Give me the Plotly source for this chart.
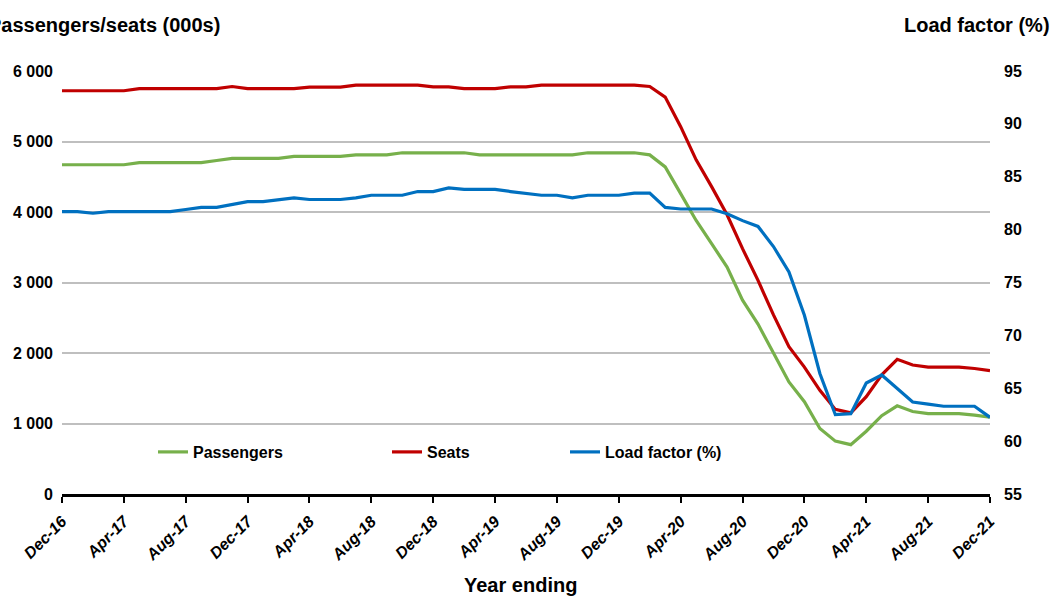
import plotly.graph_objects as go

# ---------------- data ----------------
month_names = ["Jan", "Feb", "Mar", "Apr", "May", "Jun", "Jul", "Aug", "Sep", "Oct", "Nov", "Dec"]
months = ["Dec-16"] + [f"{m}-{y}" for y in range(17, 22) for m in month_names]
x_tick_labels = months[::4]

passengers = [4670, 4670, 4670, 4670, 4670, 4700, 4700, 4700, 4700, 4700,
              4730, 4760, 4760, 4760, 4760, 4790, 4790, 4790, 4790, 4810,
              4810, 4810, 4840, 4840, 4840, 4840, 4840, 4810, 4810, 4810,
              4810, 4810, 4810, 4810, 4840, 4840, 4840, 4840, 4810, 4640,
              4260, 3880, 3550, 3220, 2750, 2410, 2000, 1590, 1310, 930,
              750, 700, 890, 1110, 1250, 1170, 1140, 1140, 1140, 1120,
              1090]

seats = [5720, 5720, 5720, 5720, 5720, 5750, 5750, 5750, 5750, 5750,
         5750, 5780, 5750, 5750, 5750, 5750, 5770, 5770, 5770, 5800,
         5800, 5800, 5800, 5800, 5775, 5775, 5750, 5750, 5750, 5775,
         5775, 5800, 5800, 5800, 5800, 5800, 5800, 5800, 5780, 5630,
         5210, 4740, 4360, 3960, 3480, 3030, 2540, 2090, 1800, 1470,
         1200, 1150, 1380, 1690, 1910, 1830, 1800, 1800, 1800, 1780,
         1750]

load_factor = [81.7, 81.7, 81.55, 81.7, 81.7, 81.7, 81.7, 81.7, 81.9, 82.1,
               82.1, 82.35, 82.65, 82.65, 82.85, 83.0, 82.85, 82.85, 82.85, 83.0,
               83.25, 83.25, 83.25, 83.6, 83.6, 83.95, 83.8, 83.8, 83.8, 83.6,
               83.4, 83.25, 83.25, 83.0, 83.25, 83.25, 83.25, 83.45, 83.45, 82.1,
               81.95, 81.95, 81.95, 81.5, 80.85, 80.3, 78.4, 76.0, 71.9, 66.4,
               62.5, 62.6, 65.5, 66.25, 65.0, 63.7, 63.5, 63.3, 63.3, 63.3,
               62.25]

left_ticks = [0, 1000, 2000, 3000, 4000, 5000, 6000]
right_ticks = [55, 60, 65, 70, 75, 80, 85, 90, 95]

# ---------------- style ----------------
GREEN = "#77B04B"
RED = "#C00000"
BLUE = "#0070C0"
FONT = "Liberation Sans, Arial, sans-serif"

W, H = 1056, 598
L, R, T, B = 62, 66, 71, 104
PW = W - L - R
PH = H - T - B


def px_x(p):
    return (p - L) / PW


def px_y(p):
    return (H - B - p) / PH


fig = go.Figure()
fig.add_trace(go.Scatter(x=months, y=passengers, name="Passengers", mode="lines",
                         line=dict(color=GREEN, width=3.2), legend="legend"))
fig.add_trace(go.Scatter(x=months, y=seats, name="Seats", mode="lines",
                         line=dict(color=RED, width=3.2), legend="legend2"))
fig.add_trace(go.Scatter(x=months, y=load_factor, name="Load factor (%)", mode="lines",
                         yaxis="y2", line=dict(color=BLUE, width=3.2), legend="legend3"))

legend_common = dict(orientation="h", xanchor="left", yanchor="middle",
                     bgcolor="rgba(0,0,0,0)", borderwidth=0,
                     font=dict(family=FONT, size=16, color="black", weight="bold"))

fig.update_layout(
    width=W, height=H,
    margin=dict(l=L, r=R, t=T, b=B, pad=0),
    paper_bgcolor="white", plot_bgcolor="white",
    separators=". ",
    showlegend=True,
    legend=dict(x=px_x(153), y=px_y(452), **legend_common),
    legend2=dict(x=px_x(387), y=px_y(452), **legend_common),
    legend3=dict(x=px_x(565), y=px_y(452), **legend_common),
    xaxis=dict(
        type="category", range=[0, len(months) - 1],
        tickmode="array", tickvals=x_tick_labels, ticktext=x_tick_labels,
        tickangle=-45, ticks="outside", ticklen=6, tickwidth=1.5, tickcolor="black",
        showline=True, linecolor="black", linewidth=2.5, showgrid=False, zeroline=False,
        ticklabelstandoff=3,
        tickfont=dict(family=FONT, size=16, color="black", weight="bold", style="italic"),
    ),
    yaxis=dict(
        range=[0, 6000], tickmode="array", tickvals=left_ticks, tickformat=",d",
        showgrid=True, gridcolor="#BFBFBF", gridwidth=1.6, zeroline=False,
        showline=False, ticks="", ticklabelstandoff=8,
        tickfont=dict(family=FONT, size=16, color="black", weight="bold"),
    ),
    yaxis2=dict(
        overlaying="y", side="right", range=[55, 95], tickmode="array", tickvals=right_ticks,
        showgrid=False, zeroline=False, showline=False, ticks="", ticklabelstandoff=13,
        tickfont=dict(family=FONT, size=16, color="black", weight="bold"),
    ),
    annotations=[
        dict(text="Passengers/seats (000s)", xref="paper", yref="paper",
             x=px_x(222), y=px_y(25), xanchor="right", yanchor="middle", showarrow=False,
             font=dict(family=FONT, size=20, color="black", weight="bold")),
        dict(text="Load factor (%)", xref="paper", yref="paper",
             x=px_x(1052), y=px_y(25), xanchor="right", yanchor="middle", showarrow=False,
             font=dict(family=FONT, size=20, color="black", weight="bold")),
        dict(text="Year ending", xref="paper", yref="paper",
             x=px_x(520), y=px_y(585), xanchor="center", yanchor="middle", showarrow=False,
             font=dict(family=FONT, size=20, color="black", weight="bold")),
    ],
)

fig.write_html("out.html", config={"displayModeBar": False},
               post_script="document.body.style.margin='0';")
